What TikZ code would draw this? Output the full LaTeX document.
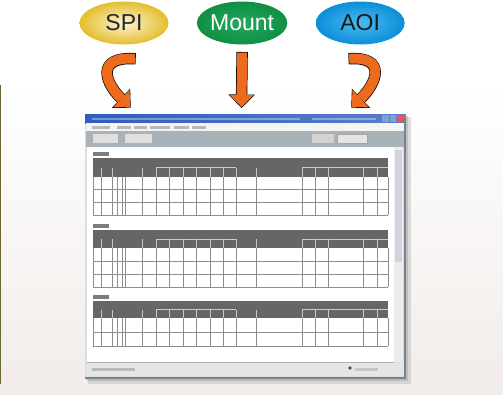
\documentclass[tikz,border=0pt]{standalone}
\usepackage{fontspec}
\setmainfont{Liberation Sans}
\usetikzlibrary{arrows.meta,shapes.geometric,positioning}

\definecolor{spigold}{HTML}{E4BE2C}
\definecolor{spicream}{HTML}{FCF4D6}
\definecolor{mountgreen}{HTML}{0E8F44}
\definecolor{mountlight}{HTML}{23A85C}
\definecolor{aoiblue}{HTML}{0C8ED8}
\definecolor{aoilight}{HTML}{4ABBF2}
\definecolor{arroworange}{HTML}{EE6A1C}
\definecolor{oliveline}{HTML}{6E6434}
\definecolor{titleblue}{HTML}{2F5DBE}
\definecolor{hdrgray}{HTML}{666666}
\definecolor{gridgray}{HTML}{8C8C8C}
\definecolor{toolgray}{HTML}{A9B1B9}
\definecolor{framegray}{HTML}{7C828C}
\definecolor{panelbottom}{HTML}{F1ECEA}

\tikzset{
  process/.style={ellipse, minimum width=89pt, minimum height=43pt, inner sep=0pt,
    font=\fontsize{23}{23}\selectfont},
  arrowrim/.style={draw=black, line width=11.4pt, shorten >=-1pt, shorten <=-0.7pt,
    -{Triangle[width=26.5pt,length=13.5pt,line width=0pt]}},
  arrowbody/.style={draw=arroworange, line width=10pt,
    -{Triangle[width=24pt,length=12pt,line width=0pt]}},
  gridline/.style={draw=gridgray, line width=0.6pt},
}

\begin{document}
\begin{tikzpicture}[x=1pt,y=-1pt]
\useasboundingbox (0,0) rectangle (503,394);
% background panel
\shade[top color=white, bottom color=panelbottom] (0,85) rectangle (503,394);
\draw[oliveline, line width=1.4pt] (0.7,85) -- (0.7,384);

% the three stages
\node[process, inner color=spicream, outer color=spigold, text=black!85] at (124,23) (spi) {SPI};
\node[process, inner color=mountlight, outer color=mountgreen, text=white, right=28pt of spi] (mount) {Mount};
\node[process, inner color=aoilight, outer color=aoiblue, text=black!90, right=28pt of mount] (aoi) {AOI};

\coordinate (spiin) at (130,107);
\coordinate (mountin) at (241.5,107);
\coordinate (aoiin) at (352,107);

% arrows into the window
\draw[arrowrim] ([shift={(11,14)}]spi.south) .. controls (94,56) and (106,84) .. (spiin);
\draw[arrowbody] ([shift={(11,14)}]spi.south) .. controls (94,56) and (106,84) .. (spiin);
\draw[arrowrim] ([shift={(0,8)}]mount.south) -- (mountin);
\draw[arrowbody] ([shift={(0,8)}]mount.south) -- (mountin);
\draw[arrowrim] ([shift={(-11,14)}]aoi.south) .. controls (388,56) and (376,84) .. (aoiin);
\draw[arrowbody] ([shift={(-11,14)}]aoi.south) .. controls (388,56) and (376,84) .. (aoiin);

% window shadow and frame
\fill[black!25, opacity=0.5] (88,117) rectangle (411,384);
\fill[black!35, opacity=0.5] (87,116) rectangle (408,381);
\fill[blue!10!gray!25] (85,114) rectangle (405,378);
\shade[left color=titleblue, right color=titleblue!80!white] (85,114) rectangle (405,123);
\foreach \bx/\ex in {92/300, 312/376}
  \fill[white, opacity=0.35] (\bx,117.5) rectangle (\ex,120);
\fill[titleblue!60!white] (382,115) rectangle (389,122);
\fill[titleblue!60!white] (390,115) rectangle (396,122);
\fill[red!70!white] (397,115) rectangle (404,122);
% menu bar
\fill[yellow!4!gray!10] (86,123) rectangle (404,131);
\foreach \bx/\ex in {92/110, 117/131, 134/147, 150/170, 174/189, 192/206}
  \fill[gray!55] (\bx,126) rectangle (\ex,128.5);
% tool bar
\fill[toolgray] (86,131) rectangle (404,147);
\fill[gray!25] (93,134) rectangle (118,143);
\fill[gray!25] (125,134) rectangle (152,143);
\fill[gray!35] (312,134) rectangle (334,143);
\filldraw[fill=gray!20, draw=gray!70] (337,134) rectangle (367,143);
% content area
\fill[white] (87,147) rectangle (394,362);
\fill[gray!15] (394,147) rectangle (403,362);
\fill[blue!15!gray!30] (395,150) rectangle (402,262);
\draw[gray!60] (87,362) -- (394,362);
\fill[gray!20] (86,363) rectangle (404,376);
\fill[gray!55] (92,368) rectangle (135,370.5);
\fill[black!70] (350,368) circle (1.8pt);
\fill[gray!45] (355,368) rectangle (378,370.5);
\draw[framegray, line width=1.8pt] (405,114) -- (405,378) -- (85,378);

% tables
\foreach \ltop/\htop/\hbot/\tbot/\nrows in {152/158/177/215/3, 224/230/248/287/3, 295/301/318/346/2} {
  \fill[hdrgray!85] (93,\ltop) rectangle (109,\ltop+3.5);
  \fill[hdrgray] (93,\htop) rectangle (388,\hbot);
  \draw[gray!40, line width=0.4pt] (156,{(\htop+\hbot)/2}) -- (236,{(\htop+\hbot)/2});
  \draw[gray!40, line width=0.4pt] (302,{(\htop+\hbot)/2}) -- (388,{(\htop+\hbot)/2});
  \foreach \cx in {101,112,142,156,169,183,196,210,223,236,256,302,315,328,363,377}
    \draw[gray!45, line width=0.4pt] (\cx,{(\htop+\hbot)/2}) -- (\cx,\hbot);
  \foreach \cx in {93,101,112,117,122,125,142,156,169,183,196,210,223,236,256,302,315,328,363,377,388}
    \draw[gridline] (\cx,\hbot) -- (\cx,\tbot);
  \foreach \r in {1,...,\nrows}
    \draw[gridline] (93,{\hbot+\r*(\tbot-\hbot)/\nrows}) -- (388,{\hbot+\r*(\tbot-\hbot)/\nrows});
}
\end{tikzpicture}
\end{document}
